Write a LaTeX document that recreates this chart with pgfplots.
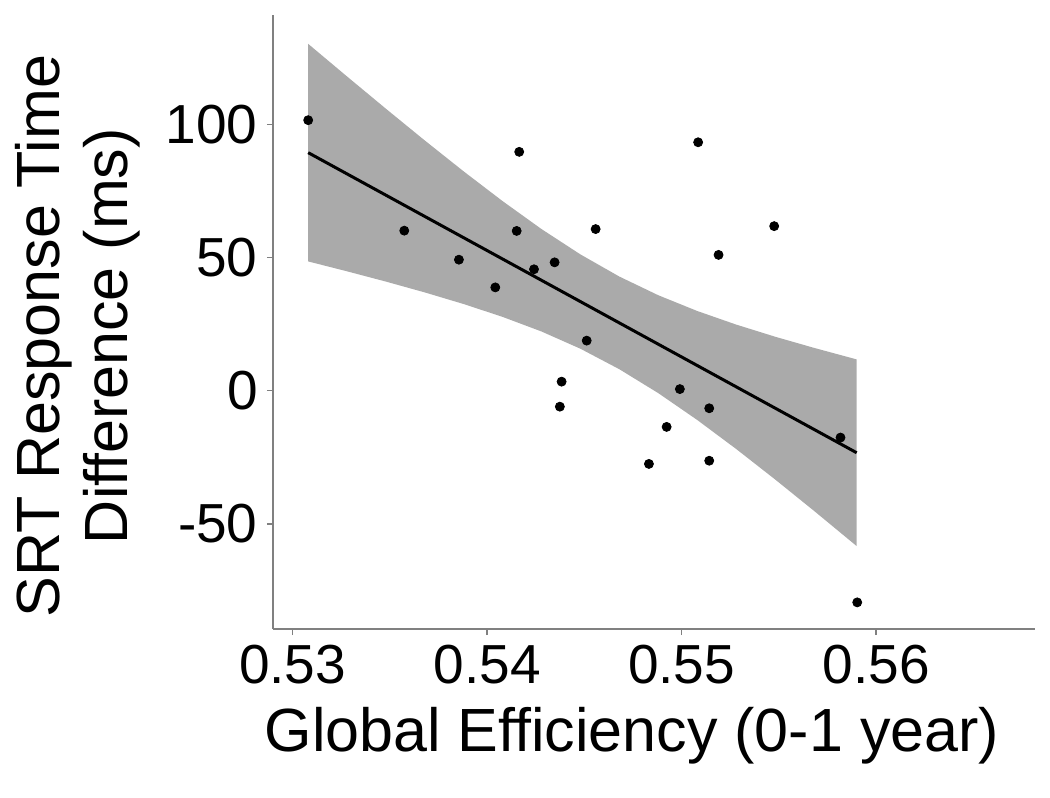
\documentclass[border=0pt]{standalone}
\usepackage{fontspec}
\setmainfont{Liberation Sans}
\usepackage{pgfplots}
\pgfplotsset{compat=1.18}
\definecolor{band}{RGB}{170,170,170}
\definecolor{axgray}{RGB}{128,128,128}
\begin{document}
\begin{tikzpicture}
\useasboundingbox (-136.5pt,-84.5pt) rectangle (388.5pt,314.5pt);
\begin{axis}[
  scale only axis, width=381pt, height=307pt,
  xmin=0.52899, xmax=0.56817, ymin=-89.5, ymax=141.1,
  axis x line*=bottom, axis y line*=left,
  axis line style={draw=axgray, line width=1pt},
  xtick={0.53,0.54,0.55,0.56}, xticklabels={0.53,0.54,0.55,0.56},
  ytick={-50,0,50,100}, yticklabels={-50,0,50,100},
  tick align=outside, major tick length=3pt,
  tick style={draw=axgray, line width=0.8pt},
  tick label style={font=\fontsize{27.5}{33}\selectfont},
  xticklabel style={inner sep=0pt, yshift=-5pt},
  yticklabel style={inner sep=0pt, xshift=-4.5pt},
  xlabel={Global Efficiency (0-1 year)},
  xlabel style={font=\fontsize{30.5}{36}\selectfont, at={(axis description cs:0.471,-0.2003)}, anchor=base},
  ylabel={SRT Response Time\\Difference (ms)},
  ylabel style={font=\fontsize{30.5}{34}\selectfont, align=center, at={(axis description cs:-0.256,0.477)}, anchor=center},
  clip=false,
]
\addplot[fill=band, draw=none] coordinates {
 (0.5308,130.25) (0.5328,117.99) (0.5348,105.87) (0.5368,93.94) (0.5388,82.33)
 (0.5408,71.17) (0.5428,60.68) (0.5448,51.17) (0.5468,42.86) (0.5488,35.85)
 (0.5508,29.94) (0.5528,24.84) (0.5548,20.29) (0.5568,16.10) (0.5590,11.75)
 (0.5590,-58.35) (0.5568,-45.08) (0.5548,-33.29) (0.5528,-21.86) (0.5508,-10.98)
 (0.5488,-0.91) (0.5468,8.06) (0.5448,15.75) (0.5428,22.22) (0.5408,27.71)
 (0.5388,32.53) (0.5368,36.90) (0.5348,40.97) (0.5328,44.83) (0.5308,48.55)
} -- cycle;
\addplot[black, line width=1.5pt] coordinates {(0.5308,89.4) (0.5590,-23.3)};
\addplot[only marks, mark=*, mark size=2.25pt, black] coordinates {
 (0.53080,101.6) (0.54165,89.7) (0.53574,60.1) (0.54152,60.0) (0.54558,60.7)
 (0.53855,49.2) (0.54347,48.2) (0.54241,45.6) (0.54042,38.8) (0.55085,93.3)
 (0.55476,61.8) (0.55190,51.0) (0.54512,18.8) (0.54383,3.4) (0.54374,-6.0)
 (0.54991,0.6) (0.55142,-6.6) (0.54923,-13.6) (0.54832,-27.5) (0.55142,-26.3)
 (0.55817,-17.6) (0.55903,-79.5)
};
\end{axis}
\end{tikzpicture}
\end{document}
